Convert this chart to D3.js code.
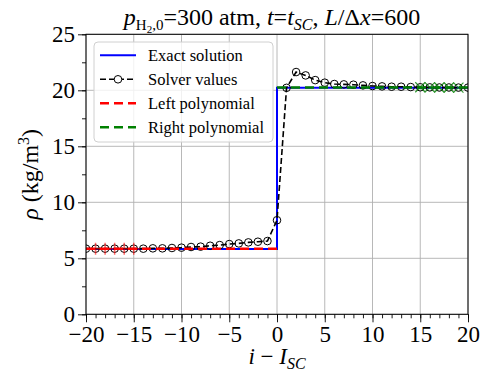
<!DOCTYPE html>
<html>
<head>
<meta charset="utf-8">
<script src="https://cdn.jsdelivr.net/npm/d3@7"></script>
<style>
  body { margin: 0; background: #fff; }
</style>
</head>
<body>
<div id="chart"></div>
<script>
// solver values at each cell index i - I_SC
var cellIdx = d3.range(-20, 21);
var solverRho = [5.86, 5.86, 5.86, 5.86, 5.86, 5.86, 5.86, 5.89, 5.89, 5.92,
                 5.95, 6.01, 6.04, 6.12, 6.18, 6.27, 6.33, 6.42, 6.48, 6.54,
                 8.40, 20.22, 21.63, 21.33, 20.91, 20.68, 20.56, 20.53, 20.50, 20.44,
                 20.38, 20.35, 20.32, 20.32, 20.29, 20.27, 20.26, 20.25, 20.25, 20.24, 20.24];

// exact solution (step)
var exactX = [-20, 0, 0, 20];
var exactY = [5.83, 5.83, 20.22, 20.22];

// polynomials fitted on each side
var leftPolyX = [-20, 0];
var leftPolyY = [5.86, 5.86];
var rightPolyX = [0, 20];
var rightPolyY = [20.24, 20.24];

// cells used for the fits
var leftFitIdx = [-19, -18, -17, -16, -15];
var rightFitIdx = [15, 16, 17, 18, 19];

var xMajor = [-20, -15, -10, -5, 0, 5, 10, 15, 20];
var yMajor = [0, 5, 10, 15, 20, 25];

var W = 481, H = 372;
var margin = {top: 34.3, right: 13, bottom: 57.7, left: 86};
var SERIF = "'Liberation Serif', 'Times New Roman', serif";

var svg = d3.select("#chart").append("svg")
    .attr("width", W)
    .attr("height", H)
    .style("display", "block")
    .style("font-family", SERIF);

var x = d3.scaleLinear().domain([-20, 20]).range([margin.left, W - margin.right]);
var y = d3.scaleLinear().domain([0, 25]).range([H - margin.bottom, margin.top]);

svg.append("defs").append("clipPath").attr("id", "plotclip")
  .append("rect")
    .attr("x", x(-20)).attr("y", y(25))
    .attr("width", x(20) - x(-20)).attr("height", y(0) - y(25));

// grid
var grid = svg.append("g").attr("stroke", "#b0b0b0").attr("stroke-width", 0.9);
grid.selectAll("line.gx").data(xMajor).enter().append("line")
    .attr("x1", d => x(d)).attr("x2", d => x(d))
    .attr("y1", y(0)).attr("y2", y(25));
grid.selectAll("line.gy").data(yMajor).enter().append("line")
    .attr("y1", d => y(d)).attr("y2", d => y(d))
    .attr("x1", x(-20)).attr("x2", x(20));

var fmt = d => d < 0 ? "\u2212" + Math.abs(d) : "" + d;

// x axis
svg.append("g")
    .attr("transform", "translate(0," + y(0) + ")")
    .call(d3.axisBottom(x).tickValues(xMajor).tickSize(8).tickPadding(3).tickFormat(fmt));
svg.append("g")
    .attr("transform", "translate(0," + y(0) + ")")
    .call(d3.axisBottom(x).tickValues(d3.range(-20, 21)).tickSize(4).tickFormat(""));

// y axis
svg.append("g")
    .attr("transform", "translate(" + x(-20) + ",0)")
    .call(d3.axisLeft(y).tickValues(yMajor).tickSize(8).tickPadding(3).tickFormat(fmt));
svg.append("g")
    .attr("transform", "translate(" + x(-20) + ",0)")
    .call(d3.axisLeft(y).tickValues(d3.range(0, 25.1, 2.5)).tickSize(4).tickFormat(""));

svg.selectAll(".domain").remove();
svg.selectAll(".tick line").attr("stroke", "#000").attr("stroke-width", 0.9);
svg.selectAll(".tick text")
    .attr("fill", "#000")
    .style("font-size", "23px")
    .style("font-family", SERIF);

// plot content
var plot = svg.append("g").attr("clip-path", "url(#plotclip)");

var line = d3.line().x(d => x(d[0])).y(d => y(d[1]));

plot.append("path")
    .datum(d3.zip(exactX, exactY))
    .attr("d", line)
    .attr("fill", "none").attr("stroke", "#0000ff").attr("stroke-width", 2);

plot.append("path")
    .datum(d3.zip(cellIdx, solverRho))
    .attr("d", line)
    .attr("fill", "none").attr("stroke", "#000").attr("stroke-width", 1.6)
    .attr("stroke-dasharray", "6,3");

plot.selectAll("circle.solver")
    .data(d3.zip(cellIdx, solverRho))
    .enter().append("circle")
    .attr("cx", d => x(d[0])).attr("cy", d => y(d[1]))
    .attr("r", 3.8)
    .attr("fill", "none").attr("stroke", "#000").attr("stroke-width", 1);

plot.append("path")
    .datum(d3.zip(leftPolyX, leftPolyY))
    .attr("d", line)
    .attr("fill", "none").attr("stroke", "#ff0000").attr("stroke-width", 2.5)
    .attr("stroke-dasharray", "9,5");

plot.append("path")
    .datum(d3.zip(rightPolyX, rightPolyY))
    .attr("d", line)
    .attr("fill", "none").attr("stroke", "#008000").attr("stroke-width", 2.5)
    .attr("stroke-dasharray", "9,5");

// fit markers
var rhoAt = i => solverRho[cellIdx.indexOf(i)];
plot.selectAll("path.lfit")
    .data(leftFitIdx).enter().append("path")
    .attr("transform", d => "translate(" + x(d) + "," + y(rhoAt(d)) + ")")
    .attr("d", "M-6,0H6M0,-6V6")
    .attr("stroke", "#ff0000").attr("stroke-opacity", 0.6).attr("stroke-width", 1.5);
plot.selectAll("path.rfit")
    .data(rightFitIdx).enter().append("path")
    .attr("transform", d => "translate(" + x(d) + "," + y(rhoAt(d)) + ")")
    .attr("d", "M-5,-5L5,5M-5,5L5,-5")
    .attr("stroke", "#008000").attr("stroke-opacity", 0.8).attr("stroke-width", 1.2);

// frame
svg.append("rect")
    .attr("x", x(-20)).attr("y", y(25))
    .attr("width", x(20) - x(-20)).attr("height", y(0) - y(25))
    .attr("fill", "none").attr("stroke", "#000").attr("stroke-width", 1);

// legend
var legendItems = [
  {label: "Exact solution", color: "#0000ff", dash: null, width: 2, marker: false},
  {label: "Solver values", color: "#000", dash: "6,3", width: 1.6, marker: true},
  {label: "Left polynomial", color: "#ff0000", dash: "9,5", width: 2.5, marker: false},
  {label: "Right polynomial", color: "#008000", dash: "9,5", width: 2.5, marker: false}
];
var lg = svg.append("g");
lg.append("rect")
    .attr("x", 94).attr("y", 42).attr("width", 179).attr("height", 100)
    .attr("rx", 4).attr("fill", "#fff").attr("fill-opacity", 0.8)
    .attr("stroke", "#d0d0d0").attr("stroke-width", 1);
legendItems.forEach(function(it, k) {
  var cy = 55.3 + k * 24;
  lg.append("line")
      .attr("x1", 100).attr("x2", 136).attr("y1", cy).attr("y2", cy)
      .attr("stroke", it.color).attr("stroke-width", it.width)
      .attr("stroke-dasharray", it.dash);
  if (it.marker) {
    lg.append("circle").attr("cx", 118).attr("cy", cy).attr("r", 3.8)
        .attr("fill", "#fff").attr("stroke", "#000").attr("stroke-width", 1);
  }
  lg.append("text")
      .attr("x", 148).attr("y", cy + 5.5)
      .style("font-size", "16.5px").style("font-family", SERIF).attr("fill", "#000")
      .text(it.label);
});

// title
var title = svg.append("text")
    .attr("x", 272).attr("y", 25)
    .attr("text-anchor", "middle")
    .style("font-size", "24px").style("font-family", SERIF).attr("fill", "#000");
title.append("tspan").attr("font-style", "italic").text("p");
title.append("tspan").style("font-size", "15px").attr("dy", 5).text("H");
title.append("tspan").style("font-size", "11px").attr("dy", 3).text("2");
title.append("tspan").style("font-size", "15px").attr("dy", -3).text(",0");
title.append("tspan").attr("dy", -5).text("=300 atm, ");
title.append("tspan").attr("font-style", "italic").text("t");
title.append("tspan").text("=");
title.append("tspan").attr("font-style", "italic").text("t");
title.append("tspan").attr("font-style", "italic").style("font-size", "16px").attr("dy", 5).text("SC");
title.append("tspan").attr("dy", -5).text(", ");
title.append("tspan").attr("font-style", "italic").text("L");
title.append("tspan").text("/\u0394");
title.append("tspan").attr("font-style", "italic").text("x");
title.append("tspan").text("=600");

// x label
var xl = svg.append("text")
    .attr("x", 277).attr("y", 364)
    .attr("text-anchor", "middle")
    .style("font-size", "23px").style("font-family", SERIF).attr("fill", "#000");
xl.append("tspan").attr("font-style", "italic").text("i");
xl.append("tspan").text(" \u2212 ");
xl.append("tspan").attr("font-style", "italic").text("I");
xl.append("tspan").attr("font-style", "italic").style("font-size", "16px").attr("dy", 5).text("SC");

// y label
var yl = svg.append("text")
    .attr("transform", "translate(38," + ((y(0) + y(25)) / 2) + ") rotate(-90)")
    .attr("text-anchor", "middle")
    .style("font-size", "24px").style("font-family", SERIF).attr("fill", "#000");
yl.append("tspan").attr("font-style", "italic").text("\u03c1");
yl.append("tspan").text(" (kg/m");
yl.append("tspan").style("font-size", "16px").attr("dy", -9).text("3");
yl.append("tspan").attr("dy", 9).text(")");
</script>
</body>
</html>
